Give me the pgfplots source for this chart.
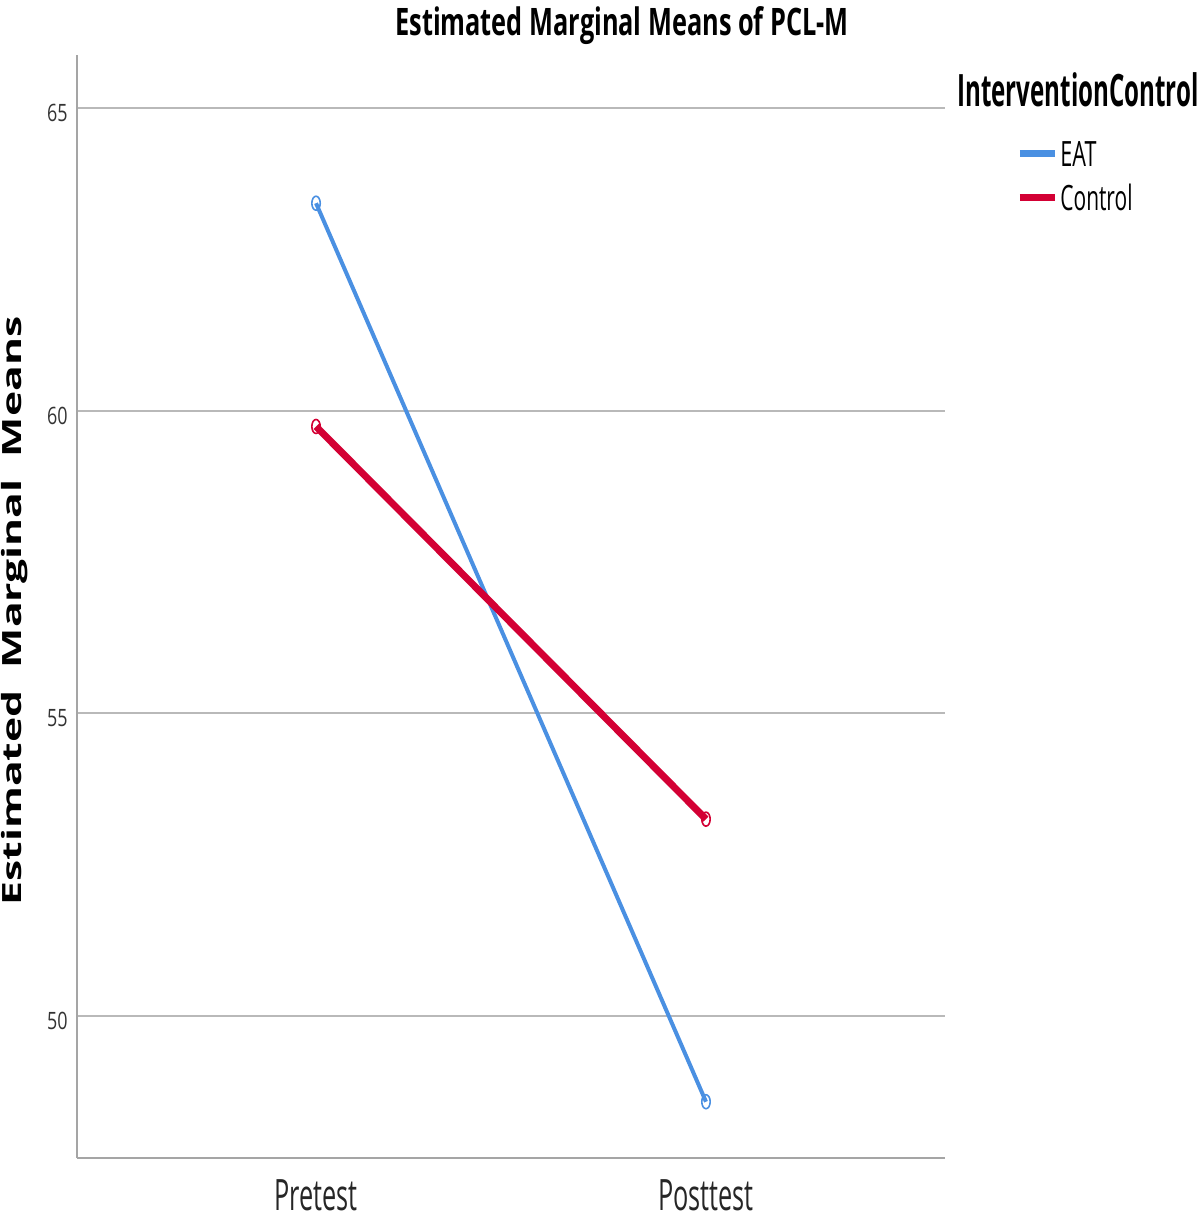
\documentclass[border=0pt]{standalone}
\usepackage{fontspec}
\setmainfont{Open Sans}
\usepackage{graphicx}
\usepackage{pgfplots}
\pgfplotsset{compat=1.18}
\definecolor{eatblue}{RGB}{74,144,226}
\definecolor{ctlred}{RGB}{211,0,52}
\definecolor{gridgray}{RGB}{185,185,185}
\definecolor{axisgray}{RGB}{165,165,165}
\newcommand{\hs}[2]{\scalebox{#1}[1]{#2}}
\pgfplotstableread{
x eat control
1 63.43 59.74
2 48.58 53.25
}\datatbl
\begin{document}
\begin{tikzpicture}[x=1bp,y=1bp]
\path[use as bounding box] (0,0) rectangle (600,609.5);
\begin{axis}[
  at={(38.5bp,30.5bp)}, anchor=south west,
  width=434bp, height=551.5bp, scale only axis,
  xmin=0.387, xmax=2.613, ymin=47.65, ymax=65.88,
  axis x line*=bottom, axis y line*=left,
  axis line style={draw=axisgray, line width=1.3bp, -},
  xtick={1,2}, xticklabels={\hs{0.585}{Pretest},\hs{0.585}{Posttest}},
  ytick={50,55,60,65}, yticklabels={\hs{0.75}{50},\hs{0.75}{55},\hs{0.75}{60},\hs{0.75}{65}},
  major tick length=0pt,
  ymajorgrids, grid style={gridgray, line width=1bp},
  xticklabel style={anchor=base, inner sep=0pt, yshift=-26.5bp, font=\fontsize{21.7}{24}\selectfont, text=black!85},
  yticklabel style={anchor=east, inner sep=0pt, xshift=-4.5bp, yshift=-2.5bp, font=\fontsize{12}{14}\selectfont, text=black!80},
  legend style={at={(1.0818,0.9229)}, anchor=north west, draw=none, fill=none,
    font=\fontsize{17.5}{20}\selectfont, inner sep=0pt, row sep=9bp,
    nodes={inner sep=0pt, text height=13bp, text depth=0bp},
    cells={anchor=west}},
  legend image code/.code={\draw[#1, line width=3.5bp] (0bp,0bp) -- (17.5bp,0bp);},
  clip=false,
]
\addplot[eatblue, line width=2bp, mark=o, mark size=3.5bp, mark options={solid, xscale=0.6, line width=0.8bp}] table[x=x, y=eat] {\datatbl};
\addlegendentry{\hspace{1bp}\hs{0.62}{EAT}}
\addplot[ctlred, line width=3.5bp, mark=o, mark size=3.5bp, mark options={solid, xscale=0.6, line width=0.8bp}] table[x=x, y=control] {\datatbl};
\addlegendentry{\hspace{1bp}\hs{0.6}{Control}}
\end{axis}
\node[anchor=base, inner sep=0pt, font=\bfseries\fontsize{19}{22}\selectfont] at (311,591.5) {\hs{0.669}{Estimated Marginal Means of PCL-M}};
\node[anchor=base west, inner sep=0pt, font=\bfseries\fontsize{22.4}{26}\selectfont] at (478.5,556) {\hs{0.54}{InterventionControl}};
\node[rotate=90, inner sep=0pt, font=\bfseries\fontsize{13.3}{16}\selectfont] at (7.5,304) {\hs{1.61}{Estimated\ \ Marginal\ \ Means}};
\end{tikzpicture}
\end{document}
